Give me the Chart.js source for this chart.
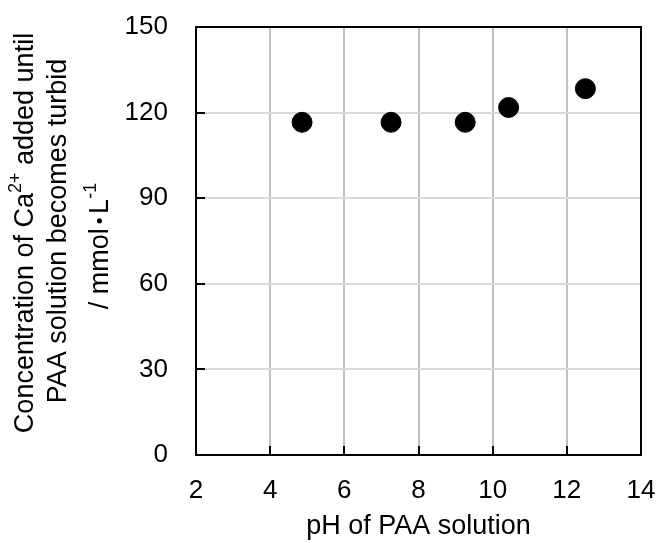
<!DOCTYPE html>
<html>
<head>
<meta charset="utf-8">
<script src="https://cdn.jsdelivr.net/npm/chart.js@4"></script>
<style>
html,body{margin:0;padding:0;background:#fff;}
#wrap{width:660px;height:543px;position:relative;}
</style>
</head>
<body>
<div id="wrap"><canvas id="c" width="660" height="543"></canvas></div>
<script>
const phValues = [4.86, 7.26, 9.26, 10.43, 12.5];
const caConcentration = [116.6, 116.6, 116.6, 121.8, 128.4];
const xTicks = [2, 4, 6, 8, 10, 12, 14];
const yTicks = [0, 30, 60, 90, 120, 150];
const xTitle = 'pH of PAA solution';
// segment: [text, kind] kind 0 = normal, 1 = superscript, 2 = small centred symbol
const yTitleLines = [
  [['Concentration of Ca', 0], ['2+', 1], [' added until', 0]],
  [['PAA solution becomes turbid', 0]],
  [['/ mmol', 0], ['\u2009\u2022\u2009', 2], ['L', 0], ['-1', 1]]
];

const FONT = '"Liberation Sans", Arial, sans-serif';

const framePlugin = {
  id: 'frame',
  afterDatasetsDraw(chart) {
    const {ctx, chartArea: a, scales} = chart;
    ctx.save();
    ctx.strokeStyle = '#000';
    ctx.lineWidth = 2;
    ctx.beginPath();
    xTicks.forEach(v => {
      const x = Math.round(scales.x.getPixelForValue(v));
      ctx.moveTo(x, a.bottom);
      ctx.lineTo(x, a.bottom - 9);
    });
    yTicks.forEach(v => {
      const y = Math.round(scales.y.getPixelForValue(v));
      ctx.moveTo(a.left, y);
      ctx.lineTo(a.left + 9, y);
    });
    ctx.stroke();
    ctx.strokeRect(a.left, a.top, a.right - a.left, a.bottom - a.top);
    ctx.restore();
  },
  afterDraw(chart) {
    const {ctx, chartArea: a} = chart;
    ctx.save();
    const cy = (a.top + a.bottom) / 2;
    const lineX = [26, 59, 101];
    const lineCy = [cy - 8, cy - 10, cy + 5];
    const sizes = [27, 18, 19];
    const offs = [0, -10, 0];
    yTitleLines.forEach((segs, i) => {
      let total = 0;
      segs.forEach(([t, k]) => {
        ctx.font = sizes[k] + 'px ' + FONT;
        total += ctx.measureText(t).width;
      });
      ctx.save();
      ctx.translate(lineX[i], lineCy[i]);
      ctx.rotate(-Math.PI / 2);
      ctx.fillStyle = '#000';
      ctx.textBaseline = 'middle';
      ctx.textAlign = 'left';
      let x = -total / 2;
      segs.forEach(([t, k]) => {
        ctx.font = sizes[k] + 'px ' + FONT;
        ctx.fillText(t, x, offs[k]);
        x += ctx.measureText(t).width;
      });
      ctx.restore();
    });
    ctx.restore();
  }
};

new Chart(document.getElementById('c'), {
  type: 'scatter',
  data: {
    datasets: [{
      data: phValues.map((x, i) => ({x: x, y: caConcentration[i]})),
      backgroundColor: '#000',
      borderColor: '#000',
      pointRadius: 10,
      pointBorderWidth: 1,
      pointHoverRadius: 10
    }]
  },
  options: {
    responsive: false,
    animation: false,
    devicePixelRatio: 1,
    layout: {padding: {top: 27, right: 19, left: 0, bottom: 0}},
    plugins: {legend: {display: false}, tooltip: {enabled: false}},
    scales: {
      x: {
        type: 'linear',
        min: 2, max: 14,
        afterBuildTicks(s) { s.ticks = xTicks.map(v => ({value: v})); },
        afterFit(s) { s.height = 88; s.paddingLeft = 0; s.paddingRight = 0; },
        grid: {color: '#c0c0c0', lineWidth: 2, drawTicks: false},
        border: {display: false},
        ticks: {color: '#000', font: {family: FONT, size: 26}, padding: 20, maxRotation: 0},
        title: {display: true, text: xTitle, color: '#000', font: {family: FONT, size: 27}, padding: {top: 2, bottom: 0}}
      },
      y: {
        type: 'linear',
        min: 0, max: 150,
        afterBuildTicks(s) { s.ticks = yTicks.map(v => ({value: v})); },
        afterFit(s) { s.width = 196; s.paddingTop = 0; s.paddingBottom = 0; },
        grid: {color: '#d9d9d9', lineWidth: 2, drawTicks: false},
        border: {display: false},
        ticks: {color: '#000', font: {family: FONT, size: 26}, padding: 28}
      }
    }
  },
  plugins: [framePlugin]
});
</script>
</body>
</html>
